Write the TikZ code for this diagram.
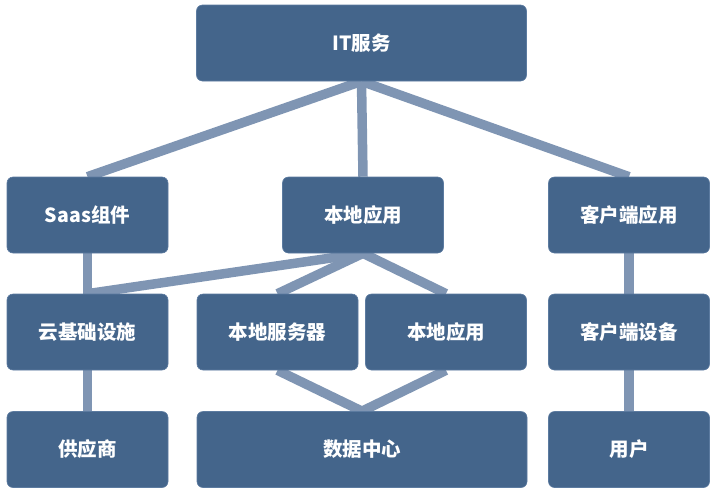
\documentclass[tikz,border=0pt]{standalone}
\usepackage{fontspec}
\setmainfont{Noto Sans CJK SC}
\definecolor{boxblue}{HTML}{44658B}
\definecolor{boxedge}{HTML}{5C7BA0}
\definecolor{linkblue}{HTML}{7F95B3}
\pgfdeclarelayer{bg}
\pgfsetlayers{bg,main}
\begin{document}
\begin{tikzpicture}[x=1pt,y=-1pt,
  box/.style={draw=boxedge, line width=0.6pt, fill=boxblue, rounded corners=6pt,
    text=white, font=\bfseries\fontsize{19.5}{22}\selectfont,
    minimum height=76pt, inner sep=0pt},
  w1/.style={minimum width=161pt},
  w2/.style={minimum width=330pt},
  link/.style={draw=linkblue, line width=9.5pt}]
\useasboundingbox (0,0) rectangle (720,496);
% nodes
\node[box,w2] (it) at (361.5,43) {IT服务};
\node[box,w1] (saas) at (87.5,215) {Saas组件};
\node[box,w1] (local) at (363,215) {本地应用};
\node[box,w1] (clientapp) at (629,215) {客户端应用};
\node[box,w1] (cloud) at (87.5,332) {云基础设施};
\node[box,w1] (server) at (277.5,332) {本地服务器};
\node[box,w1] (localapp) at (446,332) {本地应用};
\node[box,w1] (device) at (629,332) {客户端设备};
\node[box,w1] (vendor) at (87.5,449.5) {供应商};
\node[box,w2] (dc) at (362,449.5) {数据中心};
\node[box,w1] (user) at (629,449.5) {用户};
% connectors (behind boxes)
\begin{pgfonlayer}{bg}
\path[link] (it.south) -- (saas.north);
\path[link] (it.south) -- (local.north);
\path[link] (it.south) -- (clientapp.north);
\path[link] (saas.south) -- (cloud.north);
\path[link] (local.south) -- (cloud.north);
\path[link] (local.south) -- (server.north);
\path[link] (local.south) -- (localapp.north);
\path[link] (cloud.south) -- (vendor.north);
\path[link] (server.south) -- (dc.north);
\path[link] (localapp.south) -- (dc.north);
\path[link] (clientapp.south) -- (device.north);
\path[link] (device.south) -- (user.north);
\end{pgfonlayer}
\end{tikzpicture}
\end{document}
